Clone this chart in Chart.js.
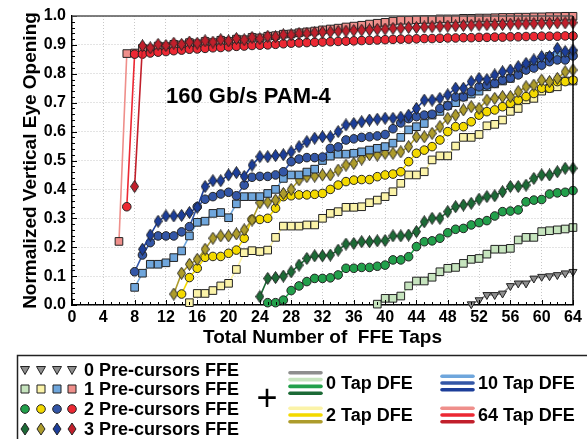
<!DOCTYPE html>
<html>
<head>
<meta charset="utf-8">
<script src="https://cdn.jsdelivr.net/npm/chart.js@4.4.0/dist/chart.umd.min.js"></script>
<style>
  html, body { margin: 0; padding: 0; background: #fff; }
</style>
</head>
<body>
<canvas id="chart" width="587" height="439"></canvas>
<script>
const FONT = "'Liberation Sans', Arial, Helvetica, sans-serif";

// x = total number of FFE taps, every series runs from its first tap count up to 64
const xTickLabels = [0, 4, 8, 12, 16, 20, 24, 28, 32, 36, 40, 44, 48, 52, 56, 60, 64];
const yTickLabels = [0.0, 0.1, 0.2, 0.3, 0.4, 0.5, 0.6, 0.7, 0.8, 0.9, 1.0];

// 0 tap DFE
const dfe0Pre0Start = 51;
const dfe0Pre0 = [0.003, 0.017, 0.035, 0.035, 0.04, 0.066, 0.075, 0.075, 0.092, 0.098, 0.10, 0.104, 0.11, 0.115];
const dfe0Pre1Start = 39;
const dfe0Pre1 = [0.003, 0.023, 0.023, 0.031, 0.066, 0.083, 0.083, 0.096, 0.115, 0.127, 0.13, 0.144, 0.158, 0.161,
    0.176, 0.193, 0.193, 0.196, 0.225, 0.234, 0.234, 0.254, 0.257, 0.26, 0.263, 0.268];
const dfe0Pre2Start = 25;
const dfe0Pre2 = [0.008, 0.008, 0.017, 0.05, 0.066, 0.081, 0.092, 0.092, 0.094, 0.104, 0.127, 0.127, 0.13, 0.13,
    0.134, 0.138, 0.156, 0.156, 0.167, 0.202, 0.219, 0.222, 0.231, 0.25, 0.262, 0.265, 0.277, 0.285, 0.292,
    0.308, 0.323, 0.325, 0.329, 0.357, 0.363, 0.365, 0.384, 0.388, 0.39, 0.396];
const dfe0Pre3Start = 24;
const dfe0Pre3 = [0.029, 0.092, 0.095, 0.10, 0.115, 0.138, 0.161, 0.17, 0.17, 0.173, 0.19, 0.211, 0.213, 0.219,
    0.219, 0.222, 0.223, 0.239, 0.239, 0.242, 0.254, 0.288, 0.30, 0.30, 0.323, 0.34, 0.346, 0.352, 0.366,
    0.375, 0.378, 0.392, 0.41, 0.41, 0.415, 0.438, 0.45, 0.45, 0.461, 0.473, 0.473];

// 2 tap DFE
const dfe2Pre1Start = 15;
const dfe2Pre1 = [0.008, 0.04, 0.04, 0.05, 0.066, 0.075, 0.123, 0.181, 0.188, 0.185, 0.19, 0.234, 0.273, 0.273,
    0.273, 0.277, 0.277, 0.30, 0.317, 0.323, 0.338, 0.338, 0.34, 0.354, 0.363, 0.375, 0.392, 0.421, 0.45, 0.45,
    0.461, 0.502, 0.516, 0.516, 0.55, 0.58, 0.58, 0.59, 0.62, 0.625, 0.64, 0.67, 0.68, 0.71, 0.715, 0.74,
    0.75, 0.755, 0.775, 0.775];
const dfe2Pre2Start = 14;
const dfe2Pre2 = [0.038, 0.095, 0.127, 0.165, 0.168, 0.168, 0.179, 0.19, 0.231, 0.296, 0.296, 0.30, 0.335, 0.375,
    0.378, 0.381, 0.381, 0.383, 0.386, 0.40, 0.415, 0.427, 0.432, 0.434, 0.434, 0.444, 0.45, 0.453, 0.461,
    0.496, 0.525, 0.536, 0.548, 0.571, 0.60, 0.617, 0.617, 0.634, 0.657, 0.669, 0.675, 0.686, 0.698, 0.709,
    0.721, 0.732, 0.75, 0.75, 0.773, 0.773, 0.778];
const dfe2Pre3Start = 13;
const dfe2Pre3 = [0.038, 0.11, 0.141, 0.158, 0.193, 0.231, 0.239, 0.239, 0.246, 0.26, 0.294, 0.354, 0.356, 0.363,
    0.386, 0.40, 0.433, 0.444, 0.446, 0.45, 0.45, 0.467, 0.484, 0.49, 0.505, 0.52, 0.519, 0.525, 0.525, 0.53,
    0.548, 0.582, 0.582, 0.594, 0.617, 0.646, 0.657, 0.675, 0.686, 0.68, 0.709, 0.715, 0.721, 0.721, 0.738,
    0.755, 0.761, 0.778, 0.773, 0.784, 0.807, 0.813];

// 10 tap DFE
const dfe10Pre1Start = 8;
const dfe10Pre1 = [0.061, 0.11, 0.141, 0.141, 0.146, 0.164, 0.187, 0.239, 0.286, 0.29, 0.317, 0.32, 0.302, 0.35,
    0.375, 0.375, 0.375, 0.386, 0.40, 0.438, 0.45, 0.45, 0.46, 0.47, 0.50, 0.515, 0.522, 0.522, 0.525, 0.53,
    0.536, 0.542, 0.548, 0.56, 0.58, 0.606, 0.617, 0.628, 0.657, 0.67, 0.69, 0.70, 0.72, 0.73, 0.74, 0.755,
    0.765, 0.775, 0.784, 0.80, 0.825, 0.83, 0.84, 0.86, 0.865, 0.865, 0.87];
const dfe10Pre2Start = 8;
const dfe10Pre2 = [0.115, 0.173, 0.216, 0.239, 0.239, 0.239, 0.253, 0.271, 0.34, 0.366, 0.375, 0.384, 0.39, 0.378,
    0.415, 0.442, 0.445, 0.445, 0.45, 0.461, 0.496, 0.505, 0.51, 0.51, 0.512, 0.542, 0.547, 0.571, 0.575, 0.58,
    0.582, 0.585, 0.59, 0.61, 0.63, 0.645, 0.652, 0.657, 0.66, 0.68, 0.689, 0.72, 0.72, 0.738, 0.755, 0.761,
    0.767, 0.778, 0.785, 0.796, 0.813, 0.82, 0.83, 0.842, 0.848, 0.848, 0.862];
const dfe10Pre3Start = 9;
const dfe10Pre3 = [0.193, 0.242, 0.29, 0.308, 0.308, 0.31, 0.32, 0.338, 0.41, 0.43, 0.43, 0.45, 0.458, 0.445,
    0.484, 0.513, 0.513, 0.517, 0.52, 0.53, 0.548, 0.565, 0.577, 0.582, 0.582, 0.60, 0.623, 0.628, 0.634, 0.64,
    0.643, 0.646, 0.646, 0.65, 0.657, 0.68, 0.709, 0.709, 0.715, 0.727, 0.75, 0.75, 0.773, 0.784, 0.78, 0.796,
    0.807, 0.813, 0.825, 0.836, 0.848, 0.86, 0.86, 0.888, 0.877, 0.882];

// 64 tap DFE
const dfe64Pre1Start = 6;
const dfe64Pre1 = [0.22, 0.87, 0.872, 0.888, 0.886, 0.896, 0.894, 0.902, 0.9, 0.908, 0.904, 0.912, 0.908, 0.916,
    0.912, 0.92, 0.918, 0.926, 0.924, 0.93, 0.932, 0.937, 0.938, 0.942, 0.945, 0.948, 0.952, 0.955, 0.958, 0.962,
    0.965, 0.968, 0.972, 0.975, 0.978, 0.982, 0.985, 0.985, 0.987, 0.988, 0.988, 0.99, 0.99, 0.99, 0.992, 0.992,
    0.993, 0.993, 0.994, 0.995, 0.995, 0.996, 0.996, 0.997, 0.997, 0.998, 0.998, 0.999, 0.999];
const dfe64Pre2Start = 7;
const dfe64Pre2 = [0.34, 0.868, 0.868, 0.872, 0.875, 0.877, 0.88, 0.882, 0.885, 0.886, 0.888, 0.89, 0.891, 0.893,
    0.895, 0.896, 0.898, 0.899, 0.90, 0.902, 0.904, 0.906, 0.907, 0.908, 0.909, 0.91, 0.911, 0.912, 0.913,
    0.914, 0.915, 0.916, 0.917, 0.918, 0.919, 0.92, 0.92, 0.921, 0.922, 0.922, 0.923, 0.924, 0.924, 0.925,
    0.925, 0.926, 0.926, 0.927, 0.927, 0.928, 0.928, 0.929, 0.929, 0.93, 0.93, 0.93, 0.931, 0.931];
const dfe64Pre3Start = 8;
const dfe64Pre3 = [0.41, 0.897, 0.89, 0.902, 0.898, 0.906, 0.902, 0.91, 0.906, 0.914, 0.91, 0.918, 0.914, 0.922,
    0.918, 0.926, 0.922, 0.93, 0.928, 0.935, 0.935, 0.94, 0.94, 0.942, 0.944, 0.945, 0.947, 0.948, 0.95, 0.951,
    0.952, 0.954, 0.955, 0.957, 0.958, 0.96, 0.96, 0.962, 0.963, 0.964, 0.965, 0.966, 0.967, 0.968, 0.969,
    0.97, 0.97, 0.971, 0.972, 0.973, 0.973, 0.974, 0.975, 0.975, 0.976, 0.976, 0.977];

const GREY = "#8e8e8e", LIGHT_GREEN = "#c6e4be", GREEN = "#22a04b", DARK_GREEN = "#1c6a36";
const LIGHT_YELLOW = "#fbf3a8", YELLOW = "#f3d900", OLIVE = "#ad9c2c";
const LIGHT_BLUE = "#6fa6dc", BLUE = "#3356a6", DARK_BLUE = "#1c3e99";
const PINK = "#ef8f8b", RED = "#ec2833", DARK_RED = "#c11f2b";
const OUTLINE = "#222";

function makeDiamond(color) {
    const c = document.createElement("canvas");
    c.width = 9;
    c.height = 13;
    const g = c.getContext("2d");
    g.beginPath();
    g.moveTo(4.5, 0.5);
    g.lineTo(8.5, 6.5);
    g.lineTo(4.5, 12.5);
    g.lineTo(0.5, 6.5);
    g.closePath();
    g.fillStyle = color;
    g.fill();
    g.lineWidth = 1;
    g.strokeStyle = OUTLINE;
    g.stroke();
    return c;
}

function makeSeries(start, values, shape, color) {
    const marker = {
        triangle: { pointStyle: "triangle", pointRadius: 4.6, pointRotation: 180 },
        square: { pointStyle: "rect", pointRadius: 5.4, pointRotation: 0 },
        circle: { pointStyle: "circle", pointRadius: 4.3, pointRotation: 0 },
        diamond: { pointStyle: makeDiamond(color), pointRadius: 6, pointRotation: 0 },
    }[shape];

    return {
        data: values.map((v, i) => ({ x: start + i, y: v })),
        borderColor: color,
        borderWidth: 1.6,
        pointBackgroundColor: color,
        pointBorderColor: OUTLINE,
        pointBorderWidth: 1,
        tension: 0,
        fill: false,
        clip: false,
        ...marker,
    };
}

// listed bottom to top
const datasets = [
    makeSeries(dfe0Pre0Start, dfe0Pre0, "triangle", GREY),
    makeSeries(dfe0Pre1Start, dfe0Pre1, "square", LIGHT_GREEN),
    makeSeries(dfe0Pre2Start, dfe0Pre2, "circle", GREEN),
    makeSeries(dfe0Pre3Start, dfe0Pre3, "diamond", DARK_GREEN),
    makeSeries(dfe2Pre1Start, dfe2Pre1, "square", LIGHT_YELLOW),
    makeSeries(dfe2Pre2Start, dfe2Pre2, "circle", YELLOW),
    makeSeries(dfe2Pre3Start, dfe2Pre3, "diamond", OLIVE),
    makeSeries(dfe10Pre1Start, dfe10Pre1, "square", LIGHT_BLUE),
    makeSeries(dfe10Pre2Start, dfe10Pre2, "circle", BLUE),
    makeSeries(dfe10Pre3Start, dfe10Pre3, "diamond", DARK_BLUE),
    makeSeries(dfe64Pre1Start, dfe64Pre1, "square", PINK),
    makeSeries(dfe64Pre2Start, dfe64Pre2, "circle", RED),
    makeSeries(dfe64Pre3Start, dfe64Pre3, "diamond", DARK_RED),
].reverse();

function legendMarker(ctx, shape, color, x, y) {
    ctx.beginPath();
    if (shape === "triangle") {
        ctx.moveTo(x - 4.5, y - 3.5);
        ctx.lineTo(x + 4.5, y - 3.5);
        ctx.lineTo(x, y + 4.5);
        ctx.closePath();
    } else if (shape === "square") {
        ctx.rect(x - 4, y - 4, 8, 8);
    } else if (shape === "circle") {
        ctx.arc(x, y, 4.3, 0, Math.PI * 2);
    } else {
        ctx.moveTo(x, y - 6);
        ctx.lineTo(x + 4, y);
        ctx.lineTo(x, y + 6);
        ctx.lineTo(x - 4, y);
        ctx.closePath();
    }
    ctx.fillStyle = color;
    ctx.fill();
    ctx.lineWidth = 1;
    ctx.strokeStyle = OUTLINE;
    ctx.stroke();
}

const precursorRows = [
    { label: "0 Pre-cursors FFE", shape: "triangle", colors: [GREY, GREY, GREY, GREY] },
    { label: "1 Pre-cursors FFE", shape: "square", colors: [LIGHT_GREEN, LIGHT_YELLOW, LIGHT_BLUE, PINK] },
    { label: "2 Pre-cursors FFE", shape: "circle", colors: [GREEN, YELLOW, BLUE, RED] },
    { label: "3 Pre-cursors FFE", shape: "diamond", colors: [DARK_GREEN, OLIVE, DARK_BLUE, DARK_RED] },
];

const dfeEntries = [
    { label: "0 Tap DFE", x: 290, y: 383, colors: [GREY, LIGHT_GREEN, GREEN, DARK_GREEN] },
    { label: "2 Tap DFE", x: 290, y: 415, colors: [LIGHT_YELLOW, YELLOW, OLIVE] },
    { label: "10 Tap DFE", x: 442, y: 383, colors: [LIGHT_BLUE, BLUE, DARK_BLUE] },
    { label: "64 Tap DFE", x: 442, y: 415, colors: [PINK, RED, DARK_RED] },
];

const decorations = {
    id: "decorations",
    afterDraw(chart) {
        const { ctx, chartArea: a, scales } = chart;
        ctx.save();

        // minor ticks, pointing into the plot
        ctx.strokeStyle = "#000";
        ctx.lineWidth = 1;
        for (let t = 0; t <= 64; t++) {
            const px = Math.round(scales.x.getPixelForValue(t)) + 0.5;
            ctx.beginPath();
            ctx.moveTo(px, a.bottom);
            ctx.lineTo(px, a.bottom - (t % 4 === 0 ? 5 : 3));
            ctx.stroke();
        }
        for (let k = 0; k <= 50; k++) {
            const py = Math.round(scales.y.getPixelForValue(k / 50)) + 0.5;
            ctx.beginPath();
            ctx.moveTo(a.left, py);
            ctx.lineTo(a.left + (k % 5 === 0 ? 5 : 3), py);
            ctx.stroke();
        }

        // top and right frame
        ctx.lineWidth = 1.5;
        ctx.strokeStyle = "#555";
        ctx.beginPath();
        ctx.moveTo(a.left, a.top);
        ctx.lineTo(a.right, a.top);
        ctx.stroke();
        ctx.strokeStyle = "#000";
        ctx.beginPath();
        ctx.moveTo(a.right, a.top);
        ctx.lineTo(a.right, a.bottom);
        ctx.stroke();

        ctx.fillStyle = "#000";
        ctx.textBaseline = "middle";
        ctx.textAlign = "left";
        ctx.font = `bold 22px ${FONT}`;
        ctx.fillText("160 Gb/s PAM-4", 166, 97);

        // legend box
        ctx.lineWidth = 1.5;
        ctx.strokeStyle = "#222";
        ctx.strokeRect(17.5, 355.5, 620, 120);

        const rowY = [370, 389, 409, 429];
        const colX = [25, 41, 57, 72];
        precursorRows.forEach((row, r) => {
            row.colors.forEach((c, i) => legendMarker(ctx, row.shape, c, colX[i], rowY[r]));
            ctx.fillStyle = "#000";
            ctx.font = `bold 18px ${FONT}`;
            ctx.fillText(row.label, 84, rowY[r] + 1);
        });

        ctx.font = `36px ${FONT}`;
        ctx.textAlign = "center";
        ctx.fillText("+", 267, 400);
        ctx.textAlign = "left";

        ctx.lineCap = "round";
        ctx.lineWidth = 3.6;
        dfeEntries.forEach(entry => {
            const n = entry.colors.length;
            const gap = 6.8;
            const y0 = entry.y - (gap * (n - 1)) / 2;
            entry.colors.forEach((c, i) => {
                ctx.strokeStyle = c;
                ctx.beginPath();
                ctx.moveTo(entry.x, y0 + i * gap);
                ctx.lineTo(entry.x + 31, y0 + i * gap);
                ctx.stroke();
            });
            ctx.fillStyle = "#000";
            ctx.font = `bold 18px ${FONT}`;
            ctx.fillText(entry.label, entry.x + 36, entry.y + 1);
        });

        ctx.restore();
    },
};

new Chart("chart", {
    type: "line",
    data: { datasets },
    options: {
        responsive: false,
        animation: false,
        events: [],
        layout: { padding: { left: 0, right: 14, top: 16, bottom: 89 } },
        plugins: {
            legend: { display: false },
            tooltip: { enabled: false },
        },
        scales: {
            x: {
                type: "linear",
                min: xTickLabels[0],
                max: xTickLabels[xTickLabels.length - 1],
                afterFit: scale => { scale.height = 45; },
                afterBuildTicks: scale => { scale.ticks = xTickLabels.map(v => ({ value: v })); },
                ticks: {
                    color: "#000",
                    font: { family: FONT, size: 16, weight: "bold" },
                    padding: 3,
                    maxRotation: 0,
                    autoSkip: false,
                },
                grid: { color: "#c8c8c8", lineWidth: 1, drawTicks: false },
                border: { color: "#000", width: 1.5, dash: [1, 2] },
                title: {
                    display: true,
                    text: "Total Number of  FFE Taps",
                    color: "#000",
                    font: { family: FONT, size: 19, weight: "bold" },
                    padding: { top: 0, bottom: 1 },
                },
            },
            y: {
                min: yTickLabels[0],
                max: yTickLabels[yTickLabels.length - 1],
                afterFit: scale => { scale.width = 72; },
                afterBuildTicks: scale => { scale.ticks = yTickLabels.map(v => ({ value: v })); },
                ticks: {
                    color: "#000",
                    font: { family: FONT, size: 16, weight: "bold" },
                    padding: 6,
                    callback: v => v.toFixed(1),
                },
                grid: { color: "#c8c8c8", lineWidth: 1, drawTicks: false },
                border: { color: "#000", width: 1.5, dash: [1, 2] },
                title: {
                    display: true,
                    text: "Normalized Vertical Eye Opening",
                    color: "#000",
                    font: { family: FONT, size: 19, weight: "bold" },
                    padding: { top: 19, bottom: 0 },
                },
            },
        },
    },
    plugins: [decorations],
});
</script>
</body>
</html>
